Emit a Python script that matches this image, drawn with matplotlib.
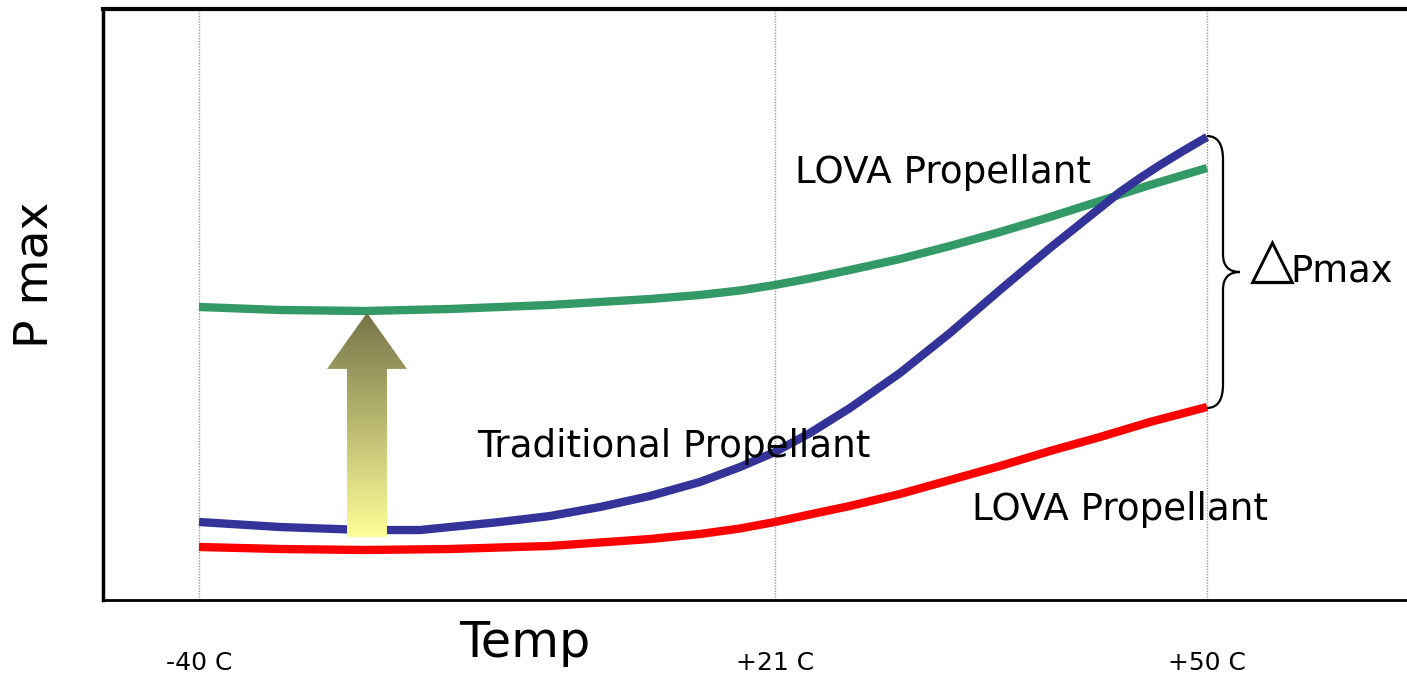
import numpy as np
import matplotlib
matplotlib.use("Agg")
import matplotlib.pyplot as plt
from matplotlib.patches import Polygon, PathPatch
from matplotlib.path import Path

# ---- data (x positions: -40C -> 0, +21C -> 1, +50C -> 1.75; y arbitrary Pmax units) ----
tick_pos = [0.0, 1.0, 1.75]
tick_labels = ["-40 C", "+21 C", "+50 C"]

green_x = [0.0, 0.1406, 0.2882, 0.4358, 0.6094, 0.7830, 0.8698, 0.9392, 1.0, 1.0642, 1.1302, 1.2170, 1.3038, 1.3906, 1.4774, 1.5642, 1.6510, 1.75]
green_y = [49.58, 49.07, 48.90, 49.24, 49.92, 50.93, 51.61, 52.37, 53.30, 54.48, 55.84, 57.70, 59.90, 62.27, 64.81, 67.51, 70.22, 73.10]

blue_x = [0.0, 0.1406, 0.2882, 0.3837, 0.5226, 0.6094, 0.6962, 0.7830, 0.8698, 0.9392, 1.0, 1.0608, 1.1302, 1.2170, 1.3038, 1.3906, 1.4774, 1.5208, 1.5642, 1.5990, 1.6337, 1.6684, 1.7083, 1.75]
blue_y = [13.20, 12.35, 11.84, 11.84, 13.20, 14.21, 15.74, 17.60, 19.97, 22.50, 25.04, 28.26, 32.49, 38.41, 45.18, 52.45, 59.56, 62.94, 66.33, 69.04, 71.40, 73.60, 75.97, 78.34]

red_x = [0.0, 0.1406, 0.2882, 0.4358, 0.6094, 0.7830, 0.8698, 0.9392, 1.0, 1.0642, 1.1302, 1.2170, 1.3038, 1.3906, 1.4774, 1.5642, 1.6510, 1.75]
red_y = [8.97, 8.63, 8.46, 8.63, 9.14, 10.32, 11.17, 12.10, 13.20, 14.55, 15.91, 17.94, 20.30, 22.67, 25.21, 27.58, 30.12, 32.66]

green_c = "#339966"
blue_c = "#333399"
red_c = "#FF0000"

fig = plt.figure(figsize=(14.07, 6.80), dpi=100)
ax = fig.add_axes([103/1407, 80/680, 1 - 103/1407, (600-9)/680])
ax.set_xlim((103-199)/576, (1407-199)/576)
ax.set_ylim(0, 100)

for x in tick_pos:
    ax.axvline(x, color="#999999", lw=1.0, ls=(0, (1, 1)), zorder=1)

lw = 6.0
ax.plot(green_x, green_y, color=green_c, lw=lw, solid_capstyle="butt", solid_joinstyle="round", zorder=3)
ax.plot(red_x, red_y, color=red_c, lw=lw, solid_capstyle="butt", solid_joinstyle="round", zorder=3)
ax.plot(blue_x, blue_y, color=blue_c, lw=lw, solid_capstyle="butt", solid_joinstyle="round", zorder=3)

# gradient arrow
tip_x, tip_y = 0.2917, 48.6
head_y, base_y = 39.1, 10.66
shaft_hw, head_hw = 0.0347, 0.0694
verts = [(tip_x - shaft_hw, base_y), (tip_x + shaft_hw, base_y), (tip_x + shaft_hw, head_y),
         (tip_x + head_hw, head_y), (tip_x, tip_y), (tip_x - head_hw, head_y),
         (tip_x - shaft_hw, head_y)]
poly = Polygon(verts, closed=True, facecolor="none", edgecolor="none", zorder=4)
ax.add_patch(poly)
top_c = np.array([0x76, 0x74, 0x48]) / 255.0
bot_c = np.array([0xFF, 0xFF, 0x99]) / 255.0
t = np.linspace(0, 1, 256)[:, None]
grad = (top_c[None, :] * (1 - t) + bot_c[None, :] * t)[:, None, :]
im = ax.imshow(grad, extent=[tip_x - head_hw, tip_x + head_hw, base_y, tip_y], origin="upper",
               aspect="auto", zorder=4, interpolation="bilinear")
im.set_clip_path(poly)

# curly brace (pixel-derived positions converted to data units)
def px(xp):
    return (xp - 199) / 576
def py(yp):
    return (600 - yp) / 5.91
bx0, bx1, btip = px(1207), px(1223), px(1240)
ytop, ymid, ybot = py(136), py(272), py(408)
codes = [Path.MOVETO, Path.CURVE3, Path.CURVE3, Path.LINETO, Path.CURVE3, Path.CURVE3,
         Path.CURVE3, Path.CURVE3, Path.LINETO, Path.CURVE3, Path.CURVE3]
pts = [(bx0, ytop), (bx1, ytop), (bx1, ytop - 4), (bx1, ymid + 3), (bx1, ymid), (btip, ymid),
       (bx1, ymid), (bx1, ymid - 3), (bx1, ybot + 4), (bx1, ybot), (bx0, ybot)]
ax.add_patch(PathPatch(Path(pts, codes), facecolor="none", edgecolor="black", lw=1.6, zorder=5))

fs = 26.8
ax.text(px(795), py(183), "LOVA Propellant", fontsize=fs, ha="left", va="baseline", zorder=6)
ax.text(px(477), py(457), "Traditional Propellant", fontsize=fs, ha="left", va="baseline", zorder=6)
ax.text(px(972), py(520), "LOVA Propellant", fontsize=fs, ha="left", va="baseline", zorder=6)
ax.text(px(1250), py(277), "\u25B3", fontsize=42, ha="left", va="baseline", zorder=6)
ax.text(px(1290), py(281), "Pmax", fontsize=26.5, ha="left", va="baseline", zorder=6)

ax.set_xticks(tick_pos)
ax.set_xticklabels(tick_labels, fontsize=18)
ax.tick_params(axis="x", length=0, pad=37)
ax.set_yticks([])

ax.spines["right"].set_visible(False)
ax.spines["top"].set_linewidth(3)
ax.spines["left"].set_linewidth(2.5)
ax.spines["bottom"].set_linewidth(2)

fig.text(525/1407, 1 - 657/680, "Temp", fontsize=35.5, ha="center", va="baseline")
fig.text(13/1407, 1 - 275/680, "P max", fontsize=34, rotation=90, ha="left", va="center")

fig.savefig("out.png", dpi=100)
